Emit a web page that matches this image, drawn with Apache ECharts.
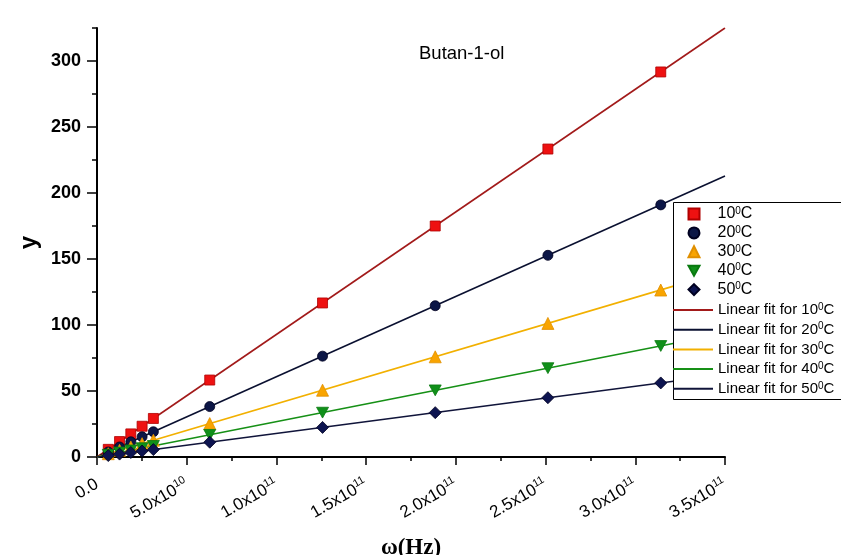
<!DOCTYPE html>
<html>
<head>
<meta charset="utf-8">
<script src="https://cdn.jsdelivr.net/npm/echarts@6/dist/echarts.min.js"></script>
<style>
html,body{margin:0;padding:0;background:#fff;}
#chart{width:841px;height:555px;}
</style>
</head>
<body>
<div id="chart"></div>
<script>
// angular frequency values (rad/s)
var omega = [6.28e9, 1.257e10, 1.885e10, 2.513e10, 3.142e10, 6.283e10, 1.257e11, 1.885e11, 2.513e11, 3.142e11];
var y10 = [5.8, 11.7, 17.5, 23.3, 29.2, 58.3, 116.7, 175.0, 233.3, 291.7];
var y20 = [3.8, 7.6, 11.5, 15.3, 19.1, 38.2, 76.4, 114.6, 152.8, 191.0];
var y30 = [2.5, 5.1, 7.6, 10.1, 12.7, 25.3, 50.6, 75.9, 101.2, 126.5];
var y40 = [1.7, 3.4, 5.0, 6.7, 8.4, 16.8, 33.6, 50.5, 67.3, 84.1];
var y50 = [1.1, 2.2, 3.4, 4.5, 5.6, 11.2, 22.4, 33.6, 44.9, 56.1];
// linear fit endpoints
var fitX = [0, 3.5e11];
var fit10 = [0, 325.0];
var fit20 = [0, 212.8];
var fit30 = [0, 141.0];
var fit40 = [0, 93.8];
var fit50 = [0, 62.5];
var yMajorTicks = [0, 50, 100, 150, 200, 250, 300];
var tempNames = ['10°C', '20°C', '30°C', '40°C', '50°C'];
var fitNames = ['Linear fit for 10°C', 'Linear fit for 20°C', 'Linear fit for 30°C', 'Linear fit for 40°C', 'Linear fit for 50°C'];

function pairs(xs, ys) { return xs.map(function (x, i) { return [x, ys[i]]; }); }

var chart = echarts.init(document.getElementById('chart'), null, {renderer: 'canvas'});

var FONT = 'Liberation Sans, Arial';
function makeRich(size) {
  return {
    sup: {fontSize: 10, verticalAlign: 'top', padding: [0, 0, 6, 0], lineHeight: 16, fontFamily: FONT, color: '#000'},
    pad: {width: 13},
    t: {fontSize: size, lineHeight: 16, fontFamily: FONT, color: '#000'}
  };
}
function legendFmt(prefix) {
  return function (name) {
    var m = name.match(/^(.*?)(\d+)°C$/);
    return prefix + '{t|' + m[1] + m[2] + '}{sup|0}{t|C}';
  };
}

var scatterStyles = [
  {symbol: 'rect', size: 10, color: '#ee1111', border: '#b00000'},
  {symbol: 'circle', size: 10, color: '#0c1646', border: '#000020'},
  {symbol: 'triangle', size: 12, color: '#f9a400', border: '#e08f00'},
  {symbol: 'path://M0,0 L10,0 L5,9 Z', size: 12, color: '#10901a', border: '#0a7a10'},
  {symbol: 'diamond', size: 12, color: '#0d1450', border: '#000020'}
];
var fitColors = ['#a21a1a', '#0a1030', '#f2b000', '#169016', '#10143a'];
var ySets = [y10, y20, y30, y40, y50];
var fitSets = [fit10, fit20, fit30, fit40, fit50];

var series = [];
fitSets.forEach(function (f, i) {
  series.push({
    name: fitNames[i], type: 'line', data: pairs(fitX, f), symbol: 'none',
    lineStyle: {color: fitColors[i], width: 1.6}, itemStyle: {color: fitColors[i]},
    z: 2, silent: true, animation: false
  });
});
ySets.forEach(function (ys, i) {
  var s = scatterStyles[i];
  series.push({
    name: tempNames[i], type: 'scatter', data: pairs(omega, ys), symbol: s.symbol,
    symbolSize: s.size, symbolKeepAspect: true,
    itemStyle: {color: s.color, borderColor: s.border, borderWidth: 0.8, opacity: 1},
    z: 3, animation: false
  });
});

function xLabel(v) {
  if (v === 0) return '0.0';
  var e = Math.floor(Math.log10(v) + 1e-9);
  var m = v / Math.pow(10, e);
  return m.toFixed(1) + 'x10{sup|' + e + '}';
}

chart.setOption({
  animation: false,
  backgroundColor: '#fff',
  title: {
    text: 'Butan-1-ol', left: 414, top: 39,
    textStyle: {fontSize: 18.5, fontWeight: 'normal', fontFamily: FONT, color: '#000'}
  },
  grid: {left: 97, right: 116, top: 28, bottom: 98, containLabel: false, outerBoundsMode: 'none'},
  xAxis: {
    type: 'value', min: 0, max: 3.5e11, interval: 5e10,
    name: 'ω(Hz)', nameLocation: 'middle', nameGap: 80,
    nameTextStyle: {fontSize: 23, fontWeight: 'bold', fontFamily: 'Liberation Serif, Times New Roman', color: '#000'},
    axisLine: {show: true, onZero: false, lineStyle: {color: '#000', width: 2}},
    axisTick: {show: true, inside: false, length: 8, lineStyle: {color: '#000', width: 1.5}},
    minorTick: {show: true, splitNumber: 2, length: 4, lineStyle: {color: '#000', width: 1.5}},
    splitLine: {show: false},
    axisLabel: {
      rotate: 30, margin: 26, formatter: xLabel,
      fontSize: 17, fontFamily: FONT, color: '#000',
      rich: {sup: {fontSize: 11, verticalAlign: 'top', padding: [0, 0, 9, 0], fontFamily: FONT, color: '#000'}}
    }
  },
  yAxis: [{
    type: 'value', min: 0, max: 325, interval: 25,
    name: 'y', nameLocation: 'middle', nameGap: 56, nameRotate: 90,
    nameTextStyle: {fontSize: 24, fontWeight: 'bold', fontFamily: FONT, color: '#000'},
    axisLine: {show: true, onZero: false, lineStyle: {color: '#000', width: 2}},
    axisTick: {show: true, inside: false, length: 5, lineStyle: {color: '#000', width: 1.5}},
    axisLabel: {show: false},
    splitLine: {show: false}
  }, {
    type: 'value', min: 0, max: 325, interval: 50, position: 'left',
    axisLine: {show: false},
    axisTick: {show: true, inside: false, length: 10, customValues: yMajorTicks, lineStyle: {color: '#000', width: 1.5}},
    axisLabel: {
      customValues: yMajorTicks, margin: 16,
      formatter: function (v) { return v % 50 === 0 && v <= 300 ? String(v) : ''; },
      fontSize: 18, fontWeight: 'bold', fontFamily: FONT, color: '#000'
    },
    splitLine: {show: false}
  }],
  graphic: [{
    type: 'rect', z: 10, left: 673, top: 202,
    shape: {width: 190, height: 197},
    style: {fill: '#fff', stroke: '#000', lineWidth: 1}
  }],
  legend: [{
    z: 20, orient: 'vertical', left: 687.5, top: 206, padding: 0,
    itemWidth: 11, itemHeight: 11, itemGap: 2.9,
    data: tempNames,
    formatter: legendFmt('{pad|}'),
    textStyle: {rich: makeRich(16), fontSize: 16, color: '#000'},
    selectedMode: false
  }, {
    z: 20, orient: 'vertical', left: 673, top: 302, padding: 0,
    itemWidth: 40, itemHeight: 2, itemGap: 3.7, icon: 'rect',
    data: fitNames,
    formatter: legendFmt(''),
    textStyle: {rich: makeRich(15), fontSize: 15, color: '#000'},
    selectedMode: false
  }],
  series: series
});
</script>
</body>
</html>
